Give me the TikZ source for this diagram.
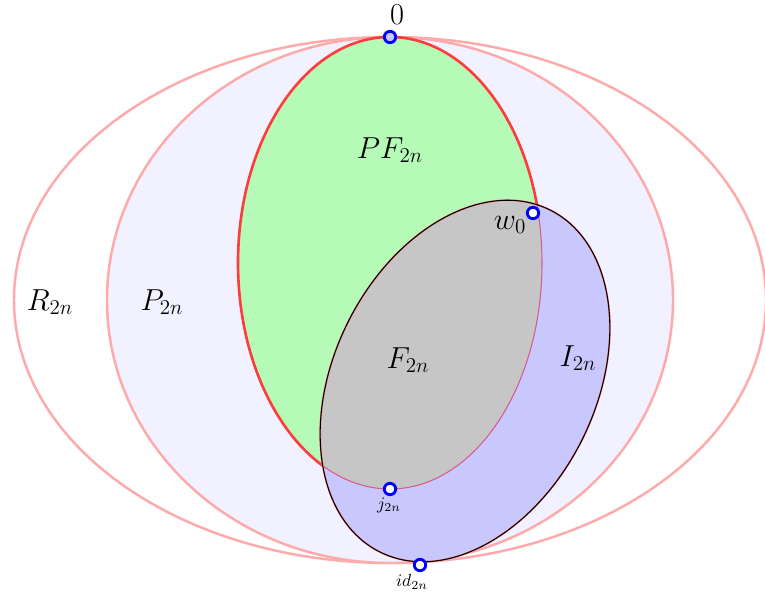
\documentclass[tikz,border=0pt]{standalone}
\usepackage{amsmath, amssymb}
\usepackage{tikz}
\usepackage{xcolor}
\usetikzlibrary{shapes, arrows.meta, positioning}
\definecolor{rosa}{RGB}{255,170,170}
\definecolor{lavanda}{RGB}{241,241,255}
\definecolor{verde}{RGB}{181,250,183}
\definecolor{azul}{RGB}{200,200,255}
\definecolor{cinza}{RGB}{198,198,198}
\definecolor{vermelho}{RGB}{255,60,60}
\definecolor{rosaescuro}{RGB}{215,90,140}

\begin{document}
\begin{tikzpicture}[font=\LARGE,
    vert/.style={draw=blue, fill=white, circle, line width=1.6pt, inner sep=0pt, minimum size=6.5pt},
    pequeno/.style={font=\normalsize}]
    \useasboundingbox (0,0) rectangle (15.3,-12.04);
    \draw[rosa, line width=1.4pt] (7.8,-6) ellipse (7.52 and 5.26);
    \draw[rosa, fill=lavanda, line width=1.4pt] (7.8,-6) ellipse (5.66 and 5.26);
    \draw[vermelho, fill=verde, line width=1.5pt] (7.8,-5.26) ellipse (3.04 and 4.52);
    \fill[azul, rotate around={63.6:(9.3,-7.62)}] (9.3,-7.62) ellipse (3.82 and 2.62);
    \begin{scope}
        \clip (7.8,-5.26) ellipse (3.04 and 4.52);
        \fill[cinza, rotate around={63.6:(9.3,-7.62)}] (9.3,-7.62) ellipse (3.82 and 2.62);
    \end{scope}
    \begin{scope}
        \clip[rotate around={63.6:(9.3,-7.62)}] (9.3,-7.62) ellipse (3.82 and 2.62);
        \draw[rosaescuro, line width=0.6pt] (7.8,-5.26) ellipse (3.04 and 4.52);
    \end{scope}
    \draw[red!50, line width=1pt, rotate around={63.6:(9.3,-7.62)}] (9.3,-7.62) ellipse (3.82 and 2.62);
    \draw[black, line width=0.6pt, rotate around={63.6:(9.3,-7.62)}] (9.3,-7.62) ellipse (3.82 and 2.62);

    \node[vert, fill=azul] (zero) at (7.8,-0.74) {};
    \node[vert] (w0) at (10.66,-4.26) {};
    \node[vert] (j) at (7.8,-9.78) {};
    \node[vert] (id) at (8.4,-11.3) {};

    \node (lzero) at (7.94,-0.3) {$0$};
    \node (lw0) at (10.2,-4.5) {$w_0$};
    \node (lPF) at (7.8,-3.0) {$PF_{2n}$};
    \node (lR) at (1.0,-6.04) {$R_{2n}$};
    \node (lP) at (3.24,-6.04) {$P_{2n}$};
    \node (lF) at (8.16,-7.2) {$F_{2n}$};
    \node (lI) at (11.56,-7.16) {$I_{2n}$};
    \node[pequeno] (lj) at (7.78,-10.1) {$j_{2n}$};
    \node[pequeno] (lid) at (8.24,-11.64) {$id_{2n}$};
\end{tikzpicture}
\end{document}
